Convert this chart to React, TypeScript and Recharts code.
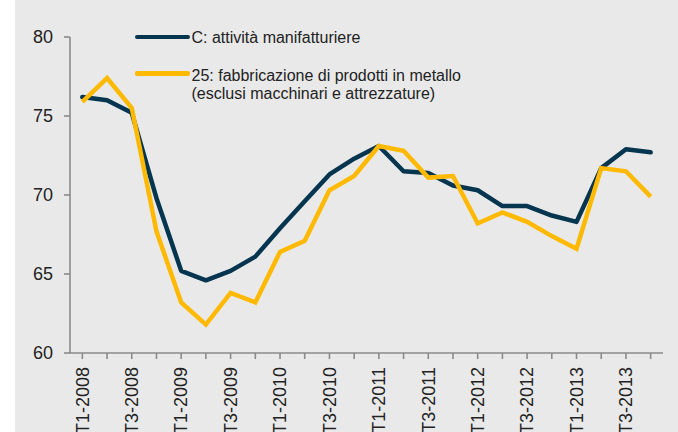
import React from "react";
import { LineChart, Line, XAxis, YAxis } from "recharts";

const quarters = [
  "T1-2008", "T2-2008", "T3-2008", "T4-2008",
  "T1-2009", "T2-2009", "T3-2009", "T4-2009",
  "T1-2010", "T2-2010", "T3-2010", "T4-2010",
  "T1-2011", "T2-2011", "T3-2011", "T4-2011",
  "T1-2012", "T2-2012", "T3-2012", "T4-2012",
  "T1-2013", "T2-2013", "T3-2013", "T4-2013",
];

const manifatturiere = [
  76.2, 76.0, 75.2, 69.8, 65.2, 64.6, 65.2, 66.1,
  67.9, 69.6, 71.3, 72.3, 73.1, 71.5, 71.4, 70.6,
  70.3, 69.3, 69.3, 68.7, 68.3, 71.7, 72.9, 72.7,
];

const metallo = [
  75.9, 77.4, 75.5, 67.7, 63.2, 61.8, 63.8, 63.2,
  66.4, 67.1, 70.3, 71.2, 73.1, 72.8, 71.1, 71.2,
  68.2, 68.9, 68.3, 67.4, 66.6, 71.7, 71.5, 69.9,
];

const yTicks = [60, 65, 70, 75, 80];

const seriesNames = [
  "C: attività manifatturiere",
  "25: fabbricazione di prodotti in metallo",
  "(esclusi macchinari e attrezzature)",
];

const data = quarters.map((q, i) => ({
  q,
  c: manifatturiere[i],
  m: metallo[i],
}));

const DARK = "#05354f";
const YELLOW = "#ffb900";
const AXIS = "#8a8a8a";
const FONT = "'Liberation Sans', Arial, Helvetica, sans-serif";

const XTick = (props: any) => {
  const { x, y, payload, index } = props;
  if (index % 2 !== 0) return <g />;
  return (
    <g transform={`translate(${x},${y})`}>
      <text
        transform="rotate(-90)"
        textAnchor="end"
        dy="0.35em"
        fontSize={18}
        fontFamily={FONT}
        fill="#222"
      >
        {payload.value}
      </text>
    </g>
  );
};

const LegendOverlay = () => (
  <div style={{ position: "absolute", left: 0, top: 0, width: 663, height: 110, fontFamily: FONT, fontSize: 16, color: "#222", pointerEvents: "none" }}>
    <div style={{ position: "absolute", left: 120, top: 34.5, width: 55, height: 4.5, background: DARK, borderRadius: 2 }} />
    <div style={{ position: "absolute", left: 176.5, top: 29.2, lineHeight: "18.3px", whiteSpace: "nowrap" }}>
      {seriesNames[0]}
    </div>
    <div style={{ position: "absolute", left: 120, top: 71.1, width: 55, height: 4.5, background: YELLOW, borderRadius: 2 }} />
    <div style={{ position: "absolute", left: 176.5, top: 66.6, lineHeight: "18.3px", whiteSpace: "nowrap" }}>
      {seriesNames[1]}
      <br />
      {seriesNames[2]}
    </div>
  </div>
);

export default function App() {
  return (
    <div style={{ position: "absolute", left: 0, top: 0, width: 678, height: 432, background: "#ffffff" }}>
      <div style={{ position: "absolute", left: 15, top: 0, width: 663, height: 432, background: "#e9e9e9" }}>
        <LineChart
          width={663}
          height={432}
          data={data}
          margin={{ top: 37, right: 15, bottom: 0, left: 10 }}
        >
          <XAxis
            dataKey="q"
            interval={0}
            padding={{ left: 12.35, right: 12.35 }}
            tick={<XTick />}
            tickSize={6}
            tickMargin={8}
            height={79}
            stroke={AXIS}
            strokeWidth={1.6}
          />
          <YAxis
            domain={[60, 80]}
            ticks={yTicks}
            width={45}
            tickSize={6}
            tickMargin={11}
            stroke={AXIS}
            strokeWidth={1.6}
            tick={{ fontSize: 18, fontFamily: FONT, fill: "#222" }}
            allowDataOverflow
          />
          <Line
            type="linear"
            dataKey="c"
            stroke={DARK}
            strokeWidth={4.5}
            dot={false}
            isAnimationActive={false}
            strokeLinejoin="round"
            strokeLinecap="round"
          />
          <Line
            type="linear"
            dataKey="m"
            stroke={YELLOW}
            strokeWidth={4.5}
            dot={false}
            isAnimationActive={false}
            strokeLinejoin="miter"
            strokeLinecap="butt"
          />
        </LineChart>
        <LegendOverlay />
      </div>
    </div>
  );
}
